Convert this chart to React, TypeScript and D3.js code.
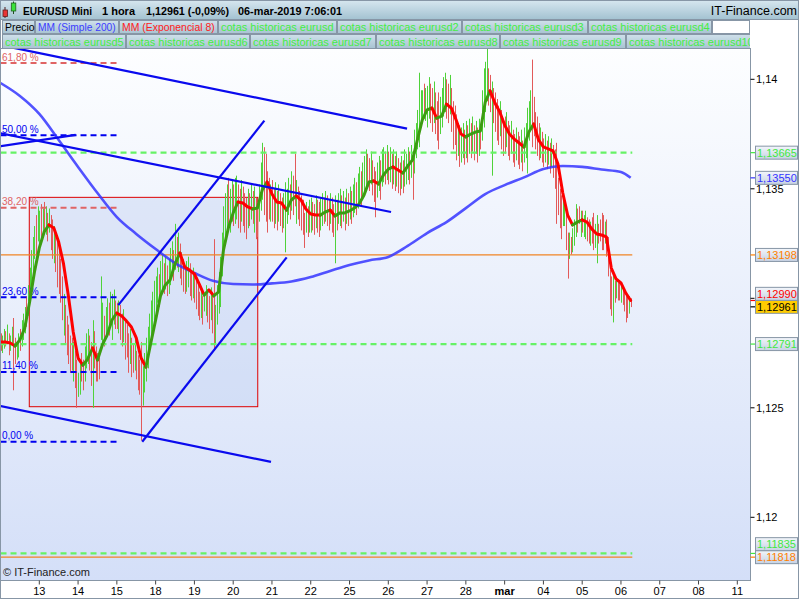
import React from "react";
import * as d3 from "d3";

// ---------------- DATA ----------------
// Hourly candles; hour 0 = 12-feb-2019 00:00 (trading hours only, 24 per day)
const candleHigh: number[] = [
  1.1284, 1.1283, 1.1286, 1.1285, 1.1288, 1.1284, 1.1283, 1.1287, 1.1291, 1.1282, 1.1280, 1.1284, 1.1286, 1.1290, 1.1293, 1.1296, 1.1301, 1.1306, 1.1314, 1.1322, 1.1328, 1.1333, 1.1338, 1.1342,
  1.1340, 1.1343, 1.1341, 1.1344, 1.1342, 1.1339, 1.1341, 1.1338, 1.1336, 1.1333, 1.1330, 1.1326, 1.1322, 1.1318, 1.1310, 1.1302, 1.1297, 1.1292, 1.1288, 1.1283, 1.1282, 1.1280, 1.1276, 1.1272,
  1.1266, 1.1270, 1.1275, 1.1272, 1.1278, 1.1284, 1.1286, 1.1283, 1.1280, 1.1290, 1.1285, 1.1278, 1.1275, 1.1273, 1.1310, 1.1298, 1.1292, 1.1296, 1.1300, 1.1298, 1.1303, 1.1302, 1.1304, 1.1299,
  1.1298, 1.1299, 1.1297, 1.1293, 1.1295, 1.1290, 1.1288, 1.1284, 1.1286, 1.1282, 1.1279, 1.1281, 1.1276, 1.1274, 1.1272, 1.1280, 1.1269, 1.1275, 1.1282, 1.1287, 1.1293, 1.1299, 1.1303, 1.1308,
  1.1310, 1.1314, 1.1311, 1.1317, 1.1320, 1.1316, 1.1319, 1.1315, 1.1318, 1.1323, 1.1326, 1.1322, 1.1334, 1.1328, 1.1330, 1.1325, 1.1321, 1.1318, 1.1315, 1.1317, 1.1319, 1.1316, 1.1313, 1.1314,
  1.1312, 1.1309, 1.1307, 1.1303, 1.1305, 1.1301, 1.1302, 1.1306, 1.1304, 1.1301, 1.1305, 1.1303, 1.1327, 1.1297, 1.1306, 1.1312, 1.1319, 1.1330, 1.1342, 1.1348, 1.1352, 1.1355, 1.1350, 1.1354,
  1.1352, 1.1355, 1.1356, 1.1352, 1.1350, 1.1354, 1.1351, 1.1348, 1.1346, 1.1350, 1.1348, 1.1352, 1.1349, 1.1351, 1.1346, 1.1344, 1.1352, 1.1362, 1.1371, 1.1369, 1.1366, 1.1358, 1.1355, 1.1352,
  1.1354, 1.1350, 1.1353, 1.1349, 1.1352, 1.1348, 1.1346, 1.1348, 1.1353, 1.1350, 1.1355, 1.1352, 1.1358, 1.1356, 1.1366, 1.1354, 1.1351, 1.1349, 1.1347, 1.1345, 1.1339, 1.1344, 1.1342, 1.1345,
  1.1346, 1.1344, 1.1343, 1.1347, 1.1345, 1.1344, 1.1346, 1.1348, 1.1346, 1.1349, 1.1347, 1.1345, 1.1348, 1.1346, 1.1343, 1.1347, 1.1345, 1.1348, 1.1350, 1.1347, 1.1349, 1.1346, 1.1350, 1.1348,
  1.1351, 1.1349, 1.1352, 1.1355, 1.1353, 1.1357, 1.1360, 1.1358, 1.1362, 1.1365, 1.1368, 1.1366, 1.1364, 1.1367, 1.1363, 1.1360, 1.1358, 1.1362, 1.1365, 1.1363, 1.1368, 1.1369, 1.1367, 1.1370,
  1.1367, 1.1369, 1.1366, 1.1368, 1.1365, 1.1367, 1.1364, 1.1362, 1.1365, 1.1363, 1.1368, 1.1366, 1.1369, 1.1367, 1.1370, 1.1366, 1.1377, 1.1380, 1.1386, 1.1403, 1.1395, 1.1395, 1.1398, 1.1396,
  1.1397, 1.1401, 1.1398, 1.1396, 1.1399, 1.1394, 1.1390, 1.1394, 1.1392, 1.1396, 1.1401, 1.1403, 1.1400, 1.1398, 1.1402, 1.1396, 1.1390, 1.1388, 1.1384, 1.1380, 1.1379, 1.1378, 1.1380, 1.1377,
  1.1381, 1.1379, 1.1382, 1.1380, 1.1383, 1.1379, 1.1381, 1.1378, 1.1382, 1.1377, 1.1395, 1.1405, 1.1408, 1.1414, 1.1405, 1.1402, 1.1399, 1.1396, 1.1394, 1.1391, 1.1388, 1.1390, 1.1386, 1.1382,
  1.1383, 1.1385, 1.1381, 1.1379, 1.1381, 1.1377, 1.1375, 1.1378, 1.1376, 1.1374, 1.1377, 1.1372, 1.1378, 1.1380, 1.1387, 1.1390, 1.1395, 1.1409, 1.1392, 1.1385, 1.1383, 1.1380, 1.1378, 1.1376,
  1.1373, 1.1375, 1.1372, 1.1374, 1.1371, 1.1373, 1.1370, 1.1368, 1.1371, 1.1355, 1.1350, 1.1347, 1.1345, 1.1345, 1.1338, 1.1330, 1.1330, 1.1328, 1.1332, 1.1336, 1.1343, 1.1341, 1.1342, 1.1340,
  1.1340, 1.1338, 1.1340, 1.1337, 1.1336, 1.1335, 1.1337, 1.1339, 1.1334, 1.1338, 1.1334, 1.1336, 1.1339, 1.1338, 1.1335, 1.1336, 1.1328, 1.1313, 1.1310, 1.1312, 1.1308, 1.1309, 1.1307, 1.1308,
  1.1307, 1.1305, 1.1303, 1.1302, 1.1301, 1.1301, 1.1300,
];
const candleLow: number[] = [
  1.1276, 1.1275, 1.1277, 1.1278, 1.1279, 1.1274, 1.1276, 1.1279, 1.1258, 1.1270, 1.1272, 1.1273, 1.1276, 1.1278, 1.1281, 1.1284, 1.1287, 1.1292, 1.1298, 1.1306, 1.1311, 1.1318, 1.1320, 1.1326,
  1.1325, 1.1327, 1.1328, 1.1330, 1.1329, 1.1326, 1.1330, 1.1322, 1.1318, 1.1316, 1.1312, 1.1305, 1.1302, 1.1298, 1.1290, 1.1283, 1.1279, 1.1274, 1.1270, 1.1266, 1.1267, 1.1262, 1.1259, 1.1250,
  1.1255, 1.1256, 1.1262, 1.1258, 1.1262, 1.1268, 1.1270, 1.1267, 1.1260, 1.1250, 1.1268, 1.1262, 1.1262, 1.1263, 1.1281, 1.1280, 1.1278, 1.1282, 1.1284, 1.1283, 1.1287, 1.1281, 1.1288, 1.1286,
  1.1286, 1.1284, 1.1281, 1.1278, 1.1280, 1.1272, 1.1273, 1.1266, 1.1270, 1.1264, 1.1266, 1.1267, 1.1263, 1.1258, 1.1256, 1.1235, 1.1251, 1.1257, 1.1262, 1.1268, 1.1275, 1.1281, 1.1286, 1.1290,
  1.1293, 1.1298, 1.1296, 1.1300, 1.1303, 1.1302, 1.1304, 1.1301, 1.1302, 1.1306, 1.1310, 1.1308, 1.1313, 1.1314, 1.1312, 1.1309, 1.1306, 1.1303, 1.1302, 1.1303, 1.1305, 1.1301, 1.1299, 1.1300,
  1.1298, 1.1295, 1.1292, 1.1290, 1.1291, 1.1288, 1.1294, 1.1292, 1.1289, 1.1286, 1.1290, 1.1284, 1.1276, 1.1279, 1.1288, 1.1293, 1.1296, 1.1310, 1.1320, 1.1326, 1.1331, 1.1334, 1.1330, 1.1335,
  1.1333, 1.1334, 1.1336, 1.1332, 1.1330, 1.1335, 1.1333, 1.1330, 1.1327, 1.1332, 1.1333, 1.1336, 1.1334, 1.1330, 1.1327, 1.1328, 1.1335, 1.1340, 1.1345, 1.1338, 1.1335, 1.1330, 1.1336, 1.1335,
  1.1335, 1.1332, 1.1334, 1.1331, 1.1335, 1.1333, 1.1330, 1.1332, 1.1321, 1.1334, 1.1338, 1.1336, 1.1340, 1.1338, 1.1342, 1.1334, 1.1336, 1.1333, 1.1331, 1.1329, 1.1323, 1.1330, 1.1328, 1.1330,
  1.1330, 1.1331, 1.1329, 1.1332, 1.1330, 1.1328, 1.1331, 1.1333, 1.1334, 1.1335, 1.1333, 1.1331, 1.1334, 1.1330, 1.1328, 1.1316, 1.1331, 1.1334, 1.1333, 1.1332, 1.1335, 1.1331, 1.1334, 1.1333,
  1.1336, 1.1334, 1.1337, 1.1339, 1.1338, 1.1341, 1.1344, 1.1342, 1.1346, 1.1348, 1.1351, 1.1350, 1.1349, 1.1352, 1.1347, 1.1344, 1.1337, 1.1346, 1.1349, 1.1345, 1.1351, 1.1353, 1.1352, 1.1354,
  1.1352, 1.1353, 1.1350, 1.1352, 1.1349, 1.1351, 1.1348, 1.1347, 1.1350, 1.1348, 1.1351, 1.1352, 1.1354, 1.1352, 1.1355, 1.1345, 1.1357, 1.1364, 1.1368, 1.1369, 1.1378, 1.1380, 1.1382, 1.1381,
  1.1378, 1.1382, 1.1380, 1.1376, 1.1380, 1.1375, 1.1372, 1.1368, 1.1375, 1.1378, 1.1383, 1.1385, 1.1382, 1.1380, 1.1384, 1.1376, 1.1368, 1.1370, 1.1363, 1.1365, 1.1360, 1.1362, 1.1364, 1.1361,
  1.1364, 1.1362, 1.1366, 1.1364, 1.1367, 1.1363, 1.1366, 1.1362, 1.1365, 1.1368, 1.1372, 1.1378, 1.1385, 1.1390, 1.1388, 1.1385, 1.1356, 1.1380, 1.1376, 1.1372, 1.1370, 1.1374, 1.1368, 1.1365,
  1.1366, 1.1369, 1.1365, 1.1363, 1.1366, 1.1362, 1.1360, 1.1363, 1.1361, 1.1359, 1.1362, 1.1358, 1.1362, 1.1364, 1.1357, 1.1372, 1.1378, 1.1369, 1.1374, 1.1368, 1.1365, 1.1363, 1.1364, 1.1362,
  1.1360, 1.1362, 1.1359, 1.1361, 1.1357, 1.1360, 1.1355, 1.1350, 1.1334, 1.1338, 1.1332, 1.1327, 1.1333, 1.1333, 1.1322, 1.1309, 1.1318, 1.1320, 1.1321, 1.1324, 1.1328, 1.1330, 1.1334, 1.1328,
  1.1330, 1.1328, 1.1327, 1.1326, 1.1325, 1.1324, 1.1325, 1.1322, 1.1323, 1.1316, 1.1325, 1.1326, 1.1322, 1.1322, 1.1325, 1.1319, 1.1310, 1.1295, 1.1292, 1.1289, 1.1298, 1.1300, 1.1299, 1.1299,
  1.1298, 1.1297, 1.1294, 1.1289, 1.1291, 1.1293, 1.1296,
];
// g = up candle, r = down candle
const candleDir: string = [
  "rggrgrgg", "rrggrggg", "rgggggrg",
  "grgrgrgr", "rgrrrrrg", "rrrrrgrr",
  "ggrrgggr", "rgrrrrgg", "rggrgggr",
  "rgrrgrrr", "grrgrrrr", "gggggggg",
  "ggrggrgr", "gggrgrgr", "rrrggrrg",
  "rrrrgrgg", "rrgrrggg", "gggggrgg",
  "rggrrgrr", "rgrgrgrr", "gggrrrrg",
  "rrgrgrrg", "gggrgrrg", "rrrrrgrg",
  "grrgrrgg", "rgrrgrrg", "rggrgrgr",
  "grggrggr", "gggrrgrr", "rggrggrg",
  "rgrgrgrr", "grgggrgr", "ggggggrg",
  "ggrrgrrr", "ggggrrgr", "rrrgrggr",
  "grgrgrgr", "grggggrr", "grrrrgrr",
  "rgrrgrrg", "rrgrgggg", "grrrrrgr",
  "rgrgrgrr", "rrrrggrr", "grgggrrg",
  "rggrrgrr", "ggrrrrgr", "rrrgrgrr",
  "grrrrgr",
].join("");

// MM (Exponencial 8), sampled every 3 hours
const emaStepHours = 3;
const ema8: number[] = [
  1.1280, 1.1280, 1.12796, 1.12782, 1.12810, 1.12864, 1.12983, 1.13120,
  1.13230, 1.13303, 1.13335, 1.13321, 1.13257, 1.13157, 1.13011, 1.12846,
  1.12727, 1.12695, 1.12723, 1.12773, 1.12718, 1.12787, 1.12832, 1.12901,
  1.12933, 1.12919, 1.12896, 1.12869, 1.12819, 1.12727, 1.12686, 1.12796,
  1.12901, 1.13011, 1.13061, 1.13084, 1.13157, 1.13207, 1.13143, 1.13129,
  1.13111, 1.13065, 1.13015, 1.13038, 1.13011, 1.13029, 1.13221, 1.13321,
  1.13390, 1.13440, 1.13435, 1.13417, 1.13408, 1.13412, 1.13495, 1.13531,
  1.13476, 1.13440, 1.13435, 1.13403, 1.13449, 1.13467, 1.13449, 1.13408,
  1.13385, 1.13380, 1.13380, 1.13394, 1.13403, 1.13376, 1.13390, 1.13390,
  1.13399, 1.13412, 1.13431, 1.13472, 1.13531, 1.13536, 1.13522, 1.13563,
  1.13590, 1.13600, 1.13586, 1.13572, 1.13604, 1.13632, 1.13723, 1.13814,
  1.13860, 1.13869, 1.13823, 1.13832, 1.13887, 1.13869, 1.13814, 1.13750,
  1.13737, 1.13750, 1.13759, 1.13764, 1.13896, 1.13947, 1.13892, 1.13851,
  1.13791, 1.13750, 1.13727, 1.13709, 1.13691, 1.13759, 1.13796, 1.13723,
  1.13691, 1.13682, 1.13673, 1.13613, 1.13481, 1.13380, 1.13335, 1.13348,
  1.13358, 1.13348, 1.13316, 1.13294, 1.13289, 1.13280, 1.13138, 1.13088,
  1.13070, 1.13024, 1.12990,
];

// MM (Simple 200), sampled every 12 hours, plus its value at the last candle
const smaStepHours = 12;
const sma200: number[] = [
  1.13983, 1.13924, 1.13842, 1.13723, 1.13600, 1.13481, 1.13371, 1.13294,
  1.13225, 1.13161, 1.13116, 1.13079, 1.13065, 1.13063, 1.13068, 1.13077,
  1.13097, 1.13125, 1.13152, 1.13173, 1.13189, 1.13239, 1.13298, 1.13348,
  1.13412, 1.13476, 1.13517, 1.13552, 1.13590, 1.13604, 1.13600, 1.13588,
  1.13577,
];
const sma200Last = 1.1355;
const lastPrice = 1.12961;
const emaLast = 1.1299;

const dayLabels = ["13", "14", "15", "18", "19", "20", "21", "22", "25", "26", "27", "28", "mar", "04", "05", "06", "07", "08", "11"];
const priceTicks = [1.12, 1.125, 1.13, 1.135, 1.14];

// Fibonacci retracement
const fibLow = 1.12345;
const fibHigh = 1.15143;
const fibLevels = [0, 11.4, 23.6, 38.2, 50, 61.8];
const fibRed = [38.2, 61.8];
const fibHours = [0, 72];

// horizontal levels ("cotas historicas")
const greenLevels = [1.13665, 1.12791, 1.11835];
const orangeLevels = [1.13198, 1.11818];

// drawn objects: [hour, price] anchor pairs
const trendLines: [number, number][][] = [
  [[6, 1.14147], [251.6, 1.13775]],
  [[0, 1.13753], [241.7, 1.13394]],
  [[0, 1.13695], [46.5, 1.13746]],
  [[72.9, 1.12969], [163.3, 1.13811]],
  [[87.7, 1.12345], [177.1, 1.13187]],
  [[0, 1.12508], [167.4, 1.12253]],
];
const zoneHours = [17.8, 159.2];
const zonePrices = [1.13461, 1.12505];

const headerTexts = ["EUR/USD Mini", "1 hora", "1,12961 (-0,09%)", "06-mar-2019 7:06:01"];
const legendRow1 = ["Precio", "MM (Simple 200)", "MM (Exponencial 8)", "cotas historicas eurusd", "cotas historicas eurusd2", "cotas historicas eurusd3", "cotas historicas eurusd4"];
const legendRow2 = ["cotas historicas eurusd5", "cotas historicas eurusd6", "cotas historicas eurusd7", "cotas historicas eurusd8", "cotas historicas eurusd9", "cotas historicas eurusd10"];

// ---------------- LAYOUT / STYLE ----------------
const FONT = "'Liberation Sans', Arial, Helvetica, sans-serif";
const PL = 0.5, PT = 48.5, PR = 750.5, PB = 580.5;
const headerX = [23, 102, 146, 238];
const headerW = [69, 33, 83, 104];
const legend1W = [33, 84, 99, 119, 125, 126, 124];
const legend1Fit = [29.6, 77.7, 92.7, 0, 0, 0, 0];
const legend1Col = ["#000000", "#3c3cff", "#ff2020", "#44ee44", "#44ee44", "#44ee44", "#44ee44"];
const legend2W = [124, 124, 126, 124, 126, 140];
const RED_C = "#e25a5a";
const GREEN_C = "#4fd23a";
const FRAME = "#8796a6";

const comma = (s: string) => s.replace(".", ",");

export default function App() {
  const x = d3.scaleLinear().domain([24, 24 * 19]).range([39.3, 737.3]);
  const y = d3.scaleLinear().domain([1.12, 1.14]).range([517.3, 79.3]);
  const lastHour = candleHigh.length - 1;
  const levelEnd = x(lastHour + 1);

  const line = d3
    .line<[number, number]>()
    .x((d) => x(d[0]))
    .y((d) => y(d[1]));
  const smooth = d3
    .line<[number, number]>()
    .x((d) => x(d[0]))
    .y((d) => y(d[1]))
    .curve(d3.curveMonotoneX);

  // EMA runs by direction
  const emaPts: [number, number][] = ema8.map((v, i) => [i * emaStepHours, v]);
  const runs: { color: string; pts: [number, number][] }[] = [];
  let prevColor = "";
  for (let i = 1; i < emaPts.length; i++) {
    const d = ema8[i] - ema8[i - 1];
    const c = d < 0 ? "#ff0000" : d > 0 ? "#3c9c12" : prevColor || "#ff0000";
    if (c !== prevColor) {
      runs.push({ color: c, pts: [emaPts[i - 1], emaPts[i]] });
    } else {
      runs[runs.length - 1].pts.push(emaPts[i]);
    }
    prevColor = c;
  }

  const smaPts: [number, number][] = sma200.map((v, i) => [i * smaStepHours, v] as [number, number]);
  smaPts.push([lastHour, sma200Last]);

  // axis value boxes
  const boxes = [
    { v: greenLevels[0], col: "#3fe83f", fill: "url(#boxGrad)" },
    { v: sma200Last, col: "#3333ff", fill: "url(#boxGrad)" },
    { v: orangeLevels[0], col: "#ff8000", fill: "url(#boxGrad)" },
    { v: emaLast, col: "#ff0000", fill: "url(#boxGrad)" },
    { v: lastPrice, col: "#000000", fill: "#ffcc00" },
    { v: greenLevels[1], col: "#3fe83f", fill: "url(#boxGrad)" },
    { v: greenLevels[2], col: "#3fe83f", fill: "url(#boxGrad)" },
    { v: orangeLevels[1], col: "#ff8000", fill: "url(#boxGrad)" },
  ];
  const BH = 13;
  const sorted = [...boxes].sort((a, b) => y(b.v) - y(a.v));
  let prevTop = Infinity;
  const placed = sorted.map((b) => {
    let c = y(b.v);
    if (c + BH / 2 > prevTop) c = prevTop - BH / 2;
    prevTop = c - BH / 2;
    return { ...b, c };
  });
  // axis tick labels hidden behind a value box are not drawn
  const visibleTicks = priceTicks.filter((v) => !placed.some((b) => Math.abs(b.c - y(v)) < 9));

  const fibPrice = (p: number) => fibLow + ((fibHigh - fibLow) * p) / 100;

  let lx1 = 2;
  const row1 = legendRow1.map((t, i) => {
    const cx = lx1;
    lx1 += legend1W[i];
    return { t, cx, w: legend1W[i], col: legend1Col[i], fit: legend1Fit[i] };
  });
  let lx2 = 2;
  const row2 = legendRow2.map((t, i) => {
    const cx = lx2;
    lx2 += legend2W[i];
    return { t, cx, w: legend2W[i] };
  });

  return (
    <svg
      width={800}
      height={600}
      style={{ position: "absolute", left: 0, top: 0, display: "block" }}
      fontFamily={FONT}
    >
      <defs>
        <linearGradient id="plotGrad" x1="0" y1="0" x2="0" y2="1">
          <stop offset="0" stopColor="#fdfeff" />
          <stop offset="1" stopColor="#d4dff8" />
        </linearGradient>
        <linearGradient id="headGrad" x1="0" y1="0" x2="0" y2="1">
          <stop offset="0" stopColor="#d6e6ef" />
          <stop offset="1" stopColor="#a3c2d1" />
        </linearGradient>
        <linearGradient id="cellGrad" x1="0" y1="0" x2="0" y2="1">
          <stop offset="0" stopColor="#cfe0ea" />
          <stop offset="1" stopColor="#a8c3d2" />
        </linearGradient>
        <linearGradient id="boxGrad" x1="0" y1="0" x2="0" y2="1">
          <stop offset="0" stopColor="#f3f6fb" />
          <stop offset="1" stopColor="#c6d2e4" />
        </linearGradient>
        <clipPath id="plotClip">
          <rect x={PL + 0.5} y={PT} width={PR - PL - 1} height={PB - PT - 0.5} />
        </clipPath>
        <clipPath id="legendClip">
          <rect x={0} y={0} width={750} height={50} />
        </clipPath>
      </defs>

      <rect x={0} y={0} width={800} height={600} fill="#ffffff" />
      {/* plot background */}
      <rect x={PL} y={PT} width={PR - PL} height={PB - PT} fill="url(#plotGrad)" />

      <g clipPath="url(#plotClip)">
        {/* zone box */}
        <rect
          x={x(zoneHours[0])}
          y={y(zonePrices[0])}
          width={x(zoneHours[1]) - x(zoneHours[0])}
          height={y(zonePrices[1]) - y(zonePrices[0])}
          fill="#b4c6f0"
          fillOpacity={0.32}
          stroke="#dd0000"
          strokeWidth={1}
        />
        {/* candles */}
        {candleHigh.map((hi, i) => {
          const y1 = y(hi);
          const y2 = y(candleLow[i]);
          return (
            <rect
              key={i}
              x={Math.round(x(i))}
              y={y1}
              width={1}
              height={Math.max(1, y2 - y1)}
              fill={candleDir[i] === "g" ? GREEN_C : RED_C}
            />
          );
        })}
        {/* horizontal levels */}
        {orangeLevels.map((v, i) => (
          <line key={"o" + i} x1={x(0)} x2={levelEnd} y1={y(v)} y2={y(v)} stroke="#f08424" strokeWidth={1.2} />
        ))}
        {greenLevels.map((v, i) => (
          <line
            key={"g" + i}
            x1={x(0)}
            x2={levelEnd}
            y1={y(v)}
            y2={y(v)}
            stroke="#66f266"
            strokeWidth={2.2}
            strokeDasharray="6 4"
          />
        ))}
        {/* fibonacci */}
        {fibLevels.map((p) => {
          const yy = y(fibPrice(p));
          const col = fibRed.includes(p) ? "#e06464" : "#0000f0";
          return (
            <g key={"f" + p}>
              <line x1={x(fibHours[0])} x2={x(fibHours[1])} y1={yy} y2={yy} stroke={col} strokeWidth={2} strokeDasharray="6 4" />
              <text x={2} y={yy - 2.5} fontSize={10} fill={col}>
                {comma(p.toFixed(2)) + " %"}
              </text>
            </g>
          );
        })}
        {/* SMA 200 */}
        <path d={smooth(smaPts) || ""} fill="none" stroke="#3535ff" strokeOpacity={0.85} strokeWidth={2.6} />
        {/* EMA 8 */}
        {runs.map((r, i) => (
          <path
            key={"e" + i}
            d={line(r.pts) || ""}
            fill="none"
            stroke={r.color}
            strokeWidth={3}
            strokeLinejoin="round"
            strokeLinecap="round"
          />
        ))}
        {/* trend lines */}
        {trendLines.map((tl, i) => (
          <path key={"t" + i} d={line(tl) || ""} fill="none" stroke="#0a0aee" strokeWidth={2.2} />
        ))}
        <text x={3} y={576} fontSize={11} fill="#222">
          © IT-Finance.com
        </text>
      </g>

      {/* plot frame */}
      <rect x={PL} y={PT} width={PR - PL} height={PB - PT} fill="none" stroke={FRAME} strokeWidth={1} />

      {/* right axis */}
      {priceTicks.map((v) => (
        <line key={"tk" + v} x1={PR} x2={PR + 4} y1={y(v)} y2={y(v)} stroke="#000" />
      ))}
      {visibleTicks.map((v) => (
        <text key={"pt" + v} x={756} y={y(v) + 4} fontSize={11} fill="#000">
          {comma(d3.format(".3~f")(v))}
        </text>
      ))}
      {placed.map((b, i) => (
        <g key={"b" + i}>
          <line x1={PR} x2={PR + 4.5} y1={y(b.v)} y2={y(b.v)} stroke={b.col} strokeWidth={1.2} />
          <rect x={755.5} y={b.c - BH / 2} width={42} height={BH} fill={b.fill} stroke={FRAME} strokeWidth={1} />
          <text x={757} y={b.c + 4} fontSize={11} fill={b.col}>
            {comma(b.v.toFixed(5))}
          </text>
        </g>
      ))}

      {/* bottom axis */}
      {dayLabels.map((d, i) => {
        const xx = x(24 * (i + 1));
        return (
          <g key={"d" + i}>
            <line x1={xx} x2={xx} y1={PB} y2={PB + 4} stroke="#444" />
            <text x={xx} y={595} fontSize={11} textAnchor="middle" fontWeight={d === "mar" ? "bold" : "normal"} fill="#000">
              {d}
            </text>
          </g>
        );
      })}

      {/* header */}
      <rect x={0.5} y={0.5} width={798} height={19} fill="url(#headGrad)" stroke={FRAME} />
      <g>
        <line x1={5} x2={5} y1={7} y2={18} stroke="#502020" />
        <rect x={3} y={10} width={4.5} height={6.5} fill="#e83434" stroke="#602020" strokeWidth={0.8} />
        <line x1={13.5} x2={13.5} y1={1.5} y2={14} stroke="#205020" />
        <rect x={11.3} y={3} width={4.5} height={8} fill="#3ae23a" stroke="#206020" strokeWidth={0.8} />
      </g>
      {headerTexts.map((t, i) => (
        <text key={"h" + i} x={headerX[i]} y={15} fontSize={11.5} fontWeight="bold" fill="#000" textLength={headerW[i]} lengthAdjust="spacingAndGlyphs">
          {t}
        </text>
      ))}
      <text x={797} y={15} fontSize={12.5} textAnchor="end" fill="#000">
        IT-Finance.com
      </text>

      {/* legend */}
      <g clipPath="url(#legendClip)">
        {row1.map((c, i) => (
          <g key={"l1" + i}>
            <rect x={c.cx + 0.5} y={20.5} width={c.w - 1} height={13} fill="url(#cellGrad)" stroke={FRAME} />
            <text
              x={c.cx + 3}
              y={31}
              fontSize={11}
              fill={c.col}
              {...(c.fit ? { textLength: c.fit, lengthAdjust: "spacingAndGlyphs" } : {})}
            >
              {c.t}
            </text>
          </g>
        ))}
        <rect x={lx1 + 0.5} y={20.5} width={750 - lx1 - 1} height={13} fill="#ffffff" stroke={FRAME} />
        {row2.map((c, i) => (
          <g key={"l2" + i}>
            <rect x={c.cx + 0.5} y={34.5} width={c.w - 1} height={14} fill="url(#cellGrad)" stroke={FRAME} />
            <text x={c.cx + 3} y={45.5} fontSize={11} fill="#44ee44">
              {c.t}
            </text>
          </g>
        ))}
      </g>

      {/* outer frame */}
      <rect x={0.5} y={0.5} width={798} height={598} fill="none" stroke={FRAME} />
    </svg>
  );
}
